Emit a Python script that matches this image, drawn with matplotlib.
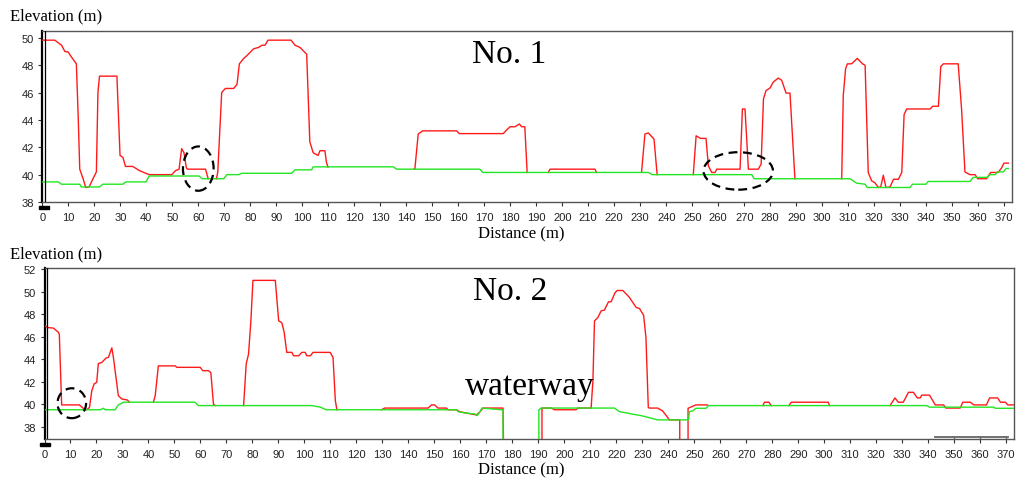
import numpy as np
import matplotlib
matplotlib.use("Agg")
import matplotlib.pyplot as plt
from matplotlib import font_manager
from matplotlib.patches import Ellipse, Rectangle

nan = np.nan

# ---------------- data: profile No. 1 ----------------
red1_x = [0, 4.8, 7.4, 8.7, 9.9, 11.2, 13.1, 13.8, 14.4, 15.7, 16.7, 18.0, 19.5, 20.8, 21.4, 22.0, 28.7, 29.9,
          31.0, 32.0, 34.8, 37.3, 39.9, 41.1, 49.8, 51.3, 52.6, 53.6, 54.5, 55.4, 55.8, 62.8, 63.8, nan,
          67.0, 67.5, 69.0, 70.4, 73.6, 74.9, 75.8, 77.5, 78.7, 81.3, 83.2, 84.5, 85.7, 86.8, 95.7, 97.2, 99.1,
          101.7, 102.9, 104.2, 106.1, 106.8, 108.7, 109.3, 109.9, nan,
          143.0, 143.3, 144.6, 146.3, 159.4, 160.4, 177.3, 178.6, 179.9, 181.8, 183.5, 184.4, 185.6, 186.5, nan,
          194.6, 195.3, 212.6, 213.2, nan,
          230.5, 231.8, 233.1, 235.3, 236.5, nan,
          250.4, 251.5, 253.2, 255.3, 256.2, 257.5, 258.8, 259.4, 268.4, 269.3, 270.3, 271.6, 275.4, 276.5,
          277.4, 278.4, 279.9, 281.2, 283.1, 284.4, 286.1, 287.6, 289.5, nan,
          307.5, 308.1, 309.0, 309.7, 311.3, 313.5, 315.5, 316.5, 317.7, 319.0, 320.3, 321.6, 322.5, 323.5,
          324.5, 326.1, 327.4, 329.3, 330.6, 331.5, 332.5, 341.5, 342.5, 344.7, 345.6, 346.6, 352.3, 353.6,
          354.9, 356.8, 358.8, 359.8, 363.2, 364.8, 367.7, 369.0, 369.9, 371.6]
red1_y = [49.83, 49.83, 49.46, 49.0, 48.97, 48.6, 48.1, 44.3, 40.4, 39.7, 39.06, 39.1, 39.7, 40.2, 46.0, 47.2,
          47.2, 41.4, 41.26, 40.6, 40.6, 40.3, 40.1, 40.0, 40.0, 40.3, 40.4, 41.9, 41.6, 40.5, 40.4, 40.4, 39.7, nan,
          39.7, 40.2, 46.0, 46.3, 46.3, 46.6, 48.1, 48.5, 48.7, 49.2, 49.3, 49.46, 49.46, 49.83, 49.83, 49.46,
          49.3, 48.8, 42.4, 41.6, 41.4, 41.75, 41.75, 40.9, 40.55, nan,
          40.4, 40.4, 42.97, 43.2, 43.2, 43.0, 43.0, 43.26, 43.5, 43.5, 43.7, 43.5, 43.5, 40.16, nan,
          40.16, 40.4, 40.4, 40.16, nan,
          40.16, 42.97, 43.05, 42.6, 40.0, nan,
          40.0, 42.84, 42.65, 42.65, 40.65, 40.16, 40.16, 40.4, 40.4, 44.8, 44.8, 40.4, 40.4, 40.77, 45.54,
          46.15, 46.33, 46.77, 47.06, 46.9, 45.96, 45.96, 39.7, nan,
          39.7, 45.8, 47.75, 48.1, 48.1, 48.5, 48.1, 47.99, 40.16, 39.55, 39.4, 39.06, 39.1, 39.96, 39.06,
          39.1, 39.66, 39.66, 40.16, 44.4, 44.8, 44.8, 45.0, 45.0, 47.9, 48.1, 48.1, 44.8, 40.2, 40.0, 40.0,
          39.7, 39.7, 40.16, 40.16, 40.5, 40.84, 40.84]

green1_x = [0, 6.1, 7.4, 14.4, 15.0, 22.0, 23.3, 31.0, 32.2, 39.9, 41.1, 60.3, 61.5, 69.8, 71.0, 75.5, 76.8,
            95.9, 97.2, 103.6, 104.2, 135.0, 136.3, 168.3, 169.4, 233.1, 234.6, 272.9, 273.8, 310.7, 313.2,
            316.5, 317.3, 333.8, 334.7, 339.9, 340.8, 356.8, 358.1, 363.5, 364.5, 366.5, 367.4, 369.7, 370.7, 371.6]
green1_y = [39.47, 39.47, 39.3, 39.3, 39.1, 39.1, 39.3, 39.3, 39.47, 39.47, 39.9, 39.9, 39.7, 39.7, 40.0, 40.0,
            40.1, 40.1, 40.35, 40.35, 40.57, 40.57, 40.4, 40.4, 40.16, 40.16, 40.0, 40.0, 39.7, 39.7, 39.38,
            39.3, 39.06, 39.06, 39.3, 39.3, 39.5, 39.5, 39.8, 39.8, 40.0, 40.0, 40.2, 40.2, 40.45, 40.45]

# ---------------- data: profile No. 2 ----------------
red2_x = [0, 1.5, 3.4, 5.3, 5.7, 6.2, 6.6, 13.4, 15.2, 16.2, 17.3, 18.2, 19.1, 20.1, 20.7, 22.0, 23.7, 24.6,
          25.9, 26.5, 27.8, 28.4, 29.7, 31.9, 32.7, nan,
          41.9, 42.6, 43.8, 50.3, 50.9, 59.9, 60.9, 63.1, 64.0, 65.0, 65.7, nan,
          76.6, 77.6, 78.5, 79.4, 80.2, 88.8, 90.1, 91.3, 92.2, 93.2, 95.2, 95.8, 97.8, 99.0, 100.3, 100.9,
          102.3, 103.3, 109.9, 111.0, 111.9, 112.5, nan,
          129.6, 130.9, 147.6, 148.9, 150.1, 151.4, 154.6, 155.3, 158.5, 159.7, 162.3, 164.2, 166.1, 167.4,
          168.7, 176.4, 176.6, nan,
          191.4, 191.4, 195.0, 196.2, 204.5, 205.2, 210.3, 211.0, 211.6, 212.9, 214.2, 215.4, 217.0, 218.0,
          219.5, 220.3, 222.5, 225.0, 227.6, 228.9, 230.5, 231.4, 232.3, 232.7, 235.9, 237.8, 239.8, 240.4,
          244.4, 244.4, nan,
          247.6, 247.6, 250.6, 255.1, nan,
          276.4, 277.0, 278.7, 279.6, nan,
          286.4, 287.3, 301.5, 302.1, nan,
          325.3, 327.2, 328.5, 330.4, 332.4, 334.3, 335.8, 336.9, 337.5, 340.5, 342.7, 345.9, 346.8, 352.3,
          353.3, 356.2, 357.5, 362.4, 363.6, 366.7, 367.8, 369.7, 370.6, 372.9]
red2_y = [46.97, 46.8, 46.76, 46.4, 46.2, 42.7, 39.93, 39.93, 39.57, 39.5, 39.7, 41.2, 41.8, 41.94, 43.6, 43.7,
          44.1, 44.16, 45.0, 44.16, 41.8, 40.76, 40.46, 40.37, 40.17, nan,
          40.17, 40.76, 43.4, 43.4, 43.27, 43.27, 42.97, 42.97, 42.8, 40.0, 39.87, nan,
          39.87, 43.57, 44.45, 47.4, 51.0, 51.0, 47.4, 47.24, 46.4, 44.6, 44.6, 44.3, 44.3, 44.6, 44.6, 44.3,
          44.3, 44.6, 44.6, 44.16, 40.3, 39.5, nan,
          39.5, 39.65, 39.65, 39.93, 39.93, 39.65, 39.65, 39.5, 39.5, 39.33, 39.2, 39.13, 39.04, 39.28, 39.65,
          39.65, 36.5, nan,
          36.5, 39.65, 39.65, 39.5, 39.5, 39.65, 39.65, 42.1, 47.4, 47.7, 48.3, 48.35, 49.1, 49.1, 49.9, 50.1,
          50.1, 49.5, 48.6, 48.5, 47.9, 45.9, 39.7, 39.65, 39.65, 39.4, 38.8, 38.6, 38.6, 36.5, nan,
          36.5, 39.63, 39.93, 39.93, nan,
          39.87, 40.17, 40.17, 39.87, nan,
          39.87, 40.17, 40.17, 39.87, nan,
          39.87, 40.55, 40.17, 40.17, 41.05, 41.05, 40.55, 40.55, 40.8, 40.8, 39.93, 39.93, 39.65, 39.65,
          40.17, 40.17, 39.93, 39.93, 40.55, 40.55, 40.17, 40.17, 39.93, 39.93]

green2_x = [0, 21.4, 22.7, 23.3, 27.2, 28.4, 30.4, 57.9, 59.2, 102.9, 106.1, 108.4, 158.5, 159.1, 162.3,
            165.5, 166.5, 167.4, 168.3, 175.7, 176.4, 176.4, nan, 190.2, 190.2, 191.1, 219.3, 221.2, 224.4,
            225.7, 229.5, 232.1, 235.9, 247.8, 248.1, 249.4, 250.6, 254.5, 255.5, 339.4, 340.5, 365.2, 365.8, 372.9]
green2_y = [39.5, 39.5, 39.63, 39.5, 39.5, 39.93, 40.17, 40.17, 39.87, 39.87, 39.73, 39.5, 39.5, 39.33, 39.2,
            39.13, 38.98, 39.28, 39.65, 39.5, 39.5, 36.5, nan, 36.5, 39.5, 39.65, 39.65, 39.33, 39.2, 39.13,
            38.98, 38.83, 38.6, 38.6, 39.33, 39.4, 39.63, 39.63, 39.87, 39.87, 39.73, 39.73, 39.63, 39.63]

x_ticks = list(range(0, 371, 10))
y_ticks1 = list(range(38, 51, 2))
y_ticks2 = list(range(38, 53, 2))

# ---------------- fonts ----------------
names = {f.name for f in font_manager.fontManager.ttflist}
tick_font = 'Liberation Sans Narrow' if 'Liberation Sans Narrow' in names else 'Liberation Sans'
serif = 'Liberation Serif'

RED = '#ff1a1a'
GREEN = '#22e622'

W, H = 1019, 481
fig = plt.figure(figsize=(W / 100, H / 100), dpi=100)
ax1 = fig.add_axes([42.3 / W, 1 - 203 / H, (1012 - 42.3) / W, (203 - 32) / H])
ax2 = fig.add_axes([44.5 / W, 1 - 440 / H, (1014 - 44.5) / W, (440 - 269) / H])


def style(ax, ylim, yticks):
    ax.set_xlim(0, 373)
    ax.set_ylim(*ylim)
    ax.set_xticks(x_ticks)
    ax.set_yticks(yticks)
    ax.tick_params(axis='both', labelsize=8, colors='#333333', length=3, width=0.8, direction='out')
    ax.tick_params(axis='x', pad=4.5)
    ax.tick_params(axis='y', pad=3)
    for lbl in ax.get_xticklabels() + ax.get_yticklabels():
        lbl.set_fontfamily(tick_font)
        lbl.set_color('#222222')
    for s in ('top', 'right', 'bottom'):
        ax.spines[s].set_color('#555555')
        ax.spines[s].set_linewidth(1.0)
    ax.spines['left'].set_color('black')
    ax.spines['left'].set_linewidth(1.6)
    ax.axvline(0.9, color='black', lw=0.9, zorder=5)


style(ax1, (38, 50.5), y_ticks1)
style(ax2, (36.9, 52.1), y_ticks2)

ax1.plot(red1_x, red1_y, color=RED, lw=1.0, zorder=3)
ax1.plot(green1_x, green1_y, color=GREEN, lw=1.0, zorder=4)
ax2.plot(red2_x, red2_y, color=RED, lw=1.0, zorder=3)
ax2.plot(green2_x, green2_y, color=GREEN, lw=1.0, zorder=4)

# dashed ellipses
for ax, cx, cy, w, h in [(ax1, 60.0, 40.44, 11.8, 3.24), (ax1, 267.7, 40.27, 26.7, 2.74),
                         (ax2, 10.5, 40.08, 11.0, 2.66)]:
    ax.add_patch(Ellipse((cx, cy), w, h, fill=False, edgecolor='black', lw=1.6,
                         linestyle=(0, (4, 2.5)), zorder=6))

# gray bar bottom-right of panel 2
ax2.plot([342.7, 370.6], [37.12, 37.12], color='#666666', lw=1.3, zorder=5)
for xt in (350, 360, 370):
    ax2.plot([xt, xt], [37.12, 36.95], color='#666666', lw=1.0, zorder=5)

# small black marks under the origin
fig.patches.append(Rectangle((39 / W, 1 - 210 / H), 10 / W, 3 / H, transform=fig.transFigure,
                             color='black'))
fig.patches.append(Rectangle((40 / W, 1 - 447 / H), 10 / W, 3 / H, transform=fig.transFigure,
                             color='black'))

# texts
fig.text(10 / W, 1 - 16 / H, 'Elevation (m)', family=serif, size=12, ha='left', va='center')
fig.text(10 / W, 1 - 254 / H, 'Elevation (m)', family=serif, size=12, ha='left', va='center')
fig.text(521.7 / W, 1 - 234 / H, 'Distance (m)', family=serif, size=12, ha='center', va='center')
fig.text(521.7 / W, 1 - 470 / H, 'Distance (m)', family=serif, size=12, ha='center', va='center')
fig.text(509 / W, 1 - 63.3 / H, 'No. 1', family=serif, size=24, ha='center', va='baseline')
fig.text(510 / W, 1 - 300 / H, 'No. 2', family=serif, size=24, ha='center', va='baseline')
fig.text(530 / W, 1 - 395 / H, 'waterway', family=serif, size=24, ha='center', va='baseline')

fig.savefig('out.png', dpi=100)
